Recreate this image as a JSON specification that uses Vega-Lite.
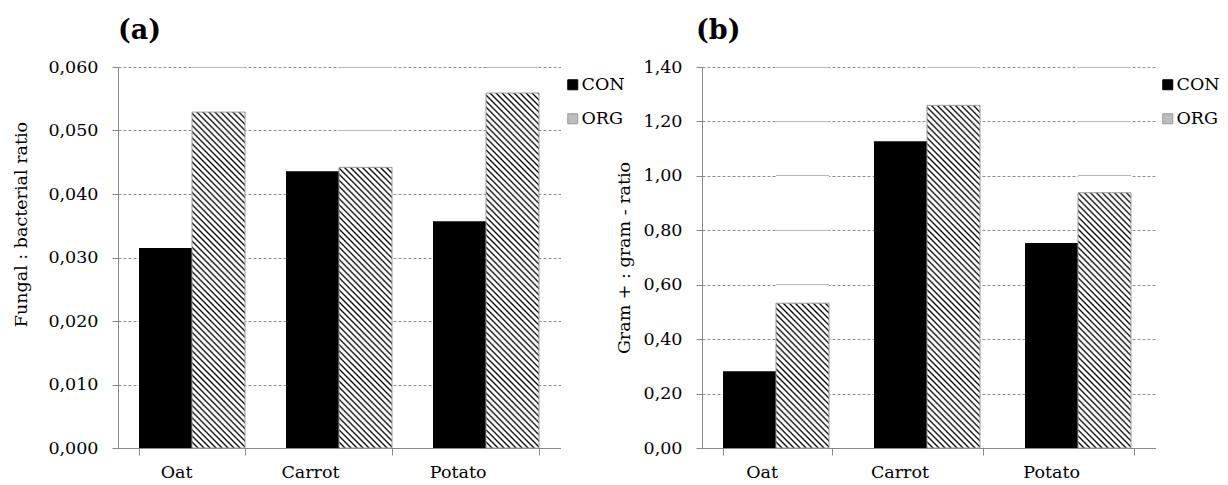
{
  "$schema": "https://vega.github.io/schema/vega-lite/v6.json",
  "padding": {"left": 12, "top": 17, "right": 0, "bottom": 0},
  "bounds": "flush",
  "spacing": 141,
  "datasets": {
    "fb": [
      {"crop": "Oat", "system": "CON", "value": 0.0315},
      {"crop": "Oat", "system": "ORG", "value": 0.0529},
      {"crop": "Carrot", "system": "CON", "value": 0.0436},
      {"crop": "Carrot", "system": "ORG", "value": 0.0442},
      {"crop": "Potato", "system": "CON", "value": 0.0357},
      {"crop": "Potato", "system": "ORG", "value": 0.0559}
    ],
    "gram": [
      {"crop": "Oat", "system": "CON", "value": 0.282},
      {"crop": "Oat", "system": "ORG", "value": 0.532},
      {"crop": "Carrot", "system": "CON", "value": 1.127},
      {"crop": "Carrot", "system": "ORG", "value": 1.259},
      {"crop": "Potato", "system": "CON", "value": 0.753},
      {"crop": "Potato", "system": "ORG", "value": 0.938}
    ]
  },
  "resolve": {
    "scale": {"fill": "independent", "stroke": "independent"},
    "legend": {"fill": "independent"}
  },
  "hconcat": [
    {
      "width": 442.5,
      "height": 381,
      "data": {"name": "fb"},
      "title": {"text": "(a)", "anchor": "start", "frame": "group", "font": "DejaVu Serif", "fontSize": 27, "fontWeight": "bold", "color": "#000000", "offset": 13},
      "layer": [
        {
          "transform": [{"filter": "datum.system === 'ORG'"}],
          "mark": {"type": "bar", "fill": {"gradient": "linear", "x1": 0, "y1": 1, "x2": 0.1577, "y2": -0.1187, "stops": [
      {"offset": 0, "color": "#000"}, {"offset": 0.0042, "color": "#fff"}, {"offset": 0.0098, "color": "#fff"},
      {"offset": 0.014, "color": "#000"}, {"offset": 0.0182, "color": "#fff"}, {"offset": 0.0238, "color": "#fff"},
      {"offset": 0.028, "color": "#000"}, {"offset": 0.0322, "color": "#fff"}, {"offset": 0.0378, "color": "#fff"},
      {"offset": 0.042, "color": "#000"}, {"offset": 0.0462, "color": "#fff"}, {"offset": 0.0518, "color": "#fff"},
      {"offset": 0.056, "color": "#000"}, {"offset": 0.0602, "color": "#fff"}, {"offset": 0.0658, "color": "#fff"},
      {"offset": 0.07, "color": "#000"}, {"offset": 0.0742, "color": "#fff"}, {"offset": 0.0798, "color": "#fff"},
      {"offset": 0.084, "color": "#000"}, {"offset": 0.0882, "color": "#fff"}, {"offset": 0.0938, "color": "#fff"},
      {"offset": 0.098, "color": "#000"}, {"offset": 0.1022, "color": "#fff"}, {"offset": 0.1078, "color": "#fff"},
      {"offset": 0.112, "color": "#000"}, {"offset": 0.1162, "color": "#fff"}, {"offset": 0.1218, "color": "#fff"},
      {"offset": 0.126, "color": "#000"}, {"offset": 0.1302, "color": "#fff"}, {"offset": 0.1358, "color": "#fff"},
      {"offset": 0.14, "color": "#000"}, {"offset": 0.1442, "color": "#fff"}, {"offset": 0.1498, "color": "#fff"},
      {"offset": 0.154, "color": "#000"}, {"offset": 0.1582, "color": "#fff"}, {"offset": 0.1638, "color": "#fff"},
      {"offset": 0.168, "color": "#000"}, {"offset": 0.1722, "color": "#fff"}, {"offset": 0.1778, "color": "#fff"},
      {"offset": 0.182, "color": "#000"}, {"offset": 0.1862, "color": "#fff"}, {"offset": 0.1918, "color": "#fff"},
      {"offset": 0.196, "color": "#000"}, {"offset": 0.2002, "color": "#fff"}, {"offset": 0.2058, "color": "#fff"},
      {"offset": 0.21, "color": "#000"}, {"offset": 0.2142, "color": "#fff"}, {"offset": 0.2198, "color": "#fff"},
      {"offset": 0.224, "color": "#000"}, {"offset": 0.2282, "color": "#fff"}, {"offset": 0.2338, "color": "#fff"},
      {"offset": 0.238, "color": "#000"}, {"offset": 0.2422, "color": "#fff"}, {"offset": 0.2478, "color": "#fff"},
      {"offset": 0.252, "color": "#000"}, {"offset": 0.2562, "color": "#fff"}, {"offset": 0.2618, "color": "#fff"},
      {"offset": 0.266, "color": "#000"}, {"offset": 0.2702, "color": "#fff"}, {"offset": 0.2758, "color": "#fff"},
      {"offset": 0.28, "color": "#000"}, {"offset": 0.2842, "color": "#fff"}, {"offset": 0.2898, "color": "#fff"},
      {"offset": 0.294, "color": "#000"}, {"offset": 0.2982, "color": "#fff"}, {"offset": 0.3038, "color": "#fff"},
      {"offset": 0.308, "color": "#000"}, {"offset": 0.3122, "color": "#fff"}, {"offset": 0.3178, "color": "#fff"},
      {"offset": 0.322, "color": "#000"}, {"offset": 0.3262, "color": "#fff"}, {"offset": 0.3318, "color": "#fff"},
      {"offset": 0.336, "color": "#000"}, {"offset": 0.3402, "color": "#fff"}, {"offset": 0.3458, "color": "#fff"},
      {"offset": 0.35, "color": "#000"}, {"offset": 0.3542, "color": "#fff"}, {"offset": 0.3598, "color": "#fff"},
      {"offset": 0.364, "color": "#000"}, {"offset": 0.3682, "color": "#fff"}, {"offset": 0.3738, "color": "#fff"},
      {"offset": 0.378, "color": "#000"}, {"offset": 0.3822, "color": "#fff"}, {"offset": 0.3878, "color": "#fff"},
      {"offset": 0.392, "color": "#000"}, {"offset": 0.3962, "color": "#fff"}, {"offset": 0.4018, "color": "#fff"},
      {"offset": 0.406, "color": "#000"}, {"offset": 0.4102, "color": "#fff"}, {"offset": 0.4158, "color": "#fff"},
      {"offset": 0.42, "color": "#000"}, {"offset": 0.4242, "color": "#fff"}, {"offset": 0.4298, "color": "#fff"},
      {"offset": 0.434, "color": "#000"}, {"offset": 0.4382, "color": "#fff"}, {"offset": 0.4438, "color": "#fff"},
      {"offset": 0.448, "color": "#000"}, {"offset": 0.4522, "color": "#fff"}, {"offset": 0.4578, "color": "#fff"},
      {"offset": 0.462, "color": "#000"}, {"offset": 0.4662, "color": "#fff"}, {"offset": 0.4718, "color": "#fff"},
      {"offset": 0.476, "color": "#000"}, {"offset": 0.4802, "color": "#fff"}, {"offset": 0.4858, "color": "#fff"},
      {"offset": 0.49, "color": "#000"}, {"offset": 0.4942, "color": "#fff"}, {"offset": 0.4998, "color": "#fff"},
      {"offset": 0.504, "color": "#000"}, {"offset": 0.5082, "color": "#fff"}, {"offset": 0.5138, "color": "#fff"},
      {"offset": 0.518, "color": "#000"}, {"offset": 0.5222, "color": "#fff"}, {"offset": 0.5278, "color": "#fff"},
      {"offset": 0.532, "color": "#000"}, {"offset": 0.5362, "color": "#fff"}, {"offset": 0.5418, "color": "#fff"},
      {"offset": 0.546, "color": "#000"}, {"offset": 0.5502, "color": "#fff"}, {"offset": 0.5558, "color": "#fff"},
      {"offset": 0.56, "color": "#000"}, {"offset": 0.5642, "color": "#fff"}, {"offset": 0.5698, "color": "#fff"},
      {"offset": 0.574, "color": "#000"}, {"offset": 0.5782, "color": "#fff"}, {"offset": 0.5838, "color": "#fff"},
      {"offset": 0.588, "color": "#000"}, {"offset": 0.5922, "color": "#fff"}, {"offset": 0.5978, "color": "#fff"},
      {"offset": 0.602, "color": "#000"}, {"offset": 0.6062, "color": "#fff"}, {"offset": 0.6118, "color": "#fff"},
      {"offset": 0.616, "color": "#000"}, {"offset": 0.6202, "color": "#fff"}, {"offset": 0.6258, "color": "#fff"},
      {"offset": 0.63, "color": "#000"}, {"offset": 0.6342, "color": "#fff"}, {"offset": 0.6398, "color": "#fff"},
      {"offset": 0.644, "color": "#000"}, {"offset": 0.6482, "color": "#fff"}, {"offset": 0.6538, "color": "#fff"},
      {"offset": 0.658, "color": "#000"}, {"offset": 0.6622, "color": "#fff"}, {"offset": 0.6678, "color": "#fff"},
      {"offset": 0.672, "color": "#000"}, {"offset": 0.6762, "color": "#fff"}, {"offset": 0.6818, "color": "#fff"},
      {"offset": 0.686, "color": "#000"}, {"offset": 0.6902, "color": "#fff"}, {"offset": 0.6958, "color": "#fff"},
      {"offset": 0.7, "color": "#000"}, {"offset": 0.7042, "color": "#fff"}, {"offset": 0.7098, "color": "#fff"},
      {"offset": 0.714, "color": "#000"}, {"offset": 0.7182, "color": "#fff"}, {"offset": 0.7238, "color": "#fff"},
      {"offset": 0.728, "color": "#000"}, {"offset": 0.7322, "color": "#fff"}, {"offset": 0.7378, "color": "#fff"},
      {"offset": 0.742, "color": "#000"}, {"offset": 0.7462, "color": "#fff"}, {"offset": 0.7518, "color": "#fff"},
      {"offset": 0.756, "color": "#000"}, {"offset": 0.7602, "color": "#fff"}, {"offset": 0.7658, "color": "#fff"},
      {"offset": 0.77, "color": "#000"}, {"offset": 0.7742, "color": "#fff"}, {"offset": 0.7798, "color": "#fff"},
      {"offset": 0.784, "color": "#000"}, {"offset": 0.7882, "color": "#fff"}, {"offset": 0.7938, "color": "#fff"},
      {"offset": 0.798, "color": "#000"}, {"offset": 0.8022, "color": "#fff"}, {"offset": 0.8078, "color": "#fff"},
      {"offset": 0.812, "color": "#000"}, {"offset": 0.8162, "color": "#fff"}, {"offset": 0.8218, "color": "#fff"},
      {"offset": 0.826, "color": "#000"}, {"offset": 0.8302, "color": "#fff"}, {"offset": 0.8358, "color": "#fff"},
      {"offset": 0.84, "color": "#000"}, {"offset": 0.8442, "color": "#fff"}, {"offset": 0.8498, "color": "#fff"},
      {"offset": 0.854, "color": "#000"}, {"offset": 0.8582, "color": "#fff"}, {"offset": 0.8638, "color": "#fff"},
      {"offset": 0.868, "color": "#000"}, {"offset": 0.8722, "color": "#fff"}, {"offset": 0.8778, "color": "#fff"},
      {"offset": 0.882, "color": "#000"}, {"offset": 0.8862, "color": "#fff"}, {"offset": 0.8918, "color": "#fff"},
      {"offset": 0.896, "color": "#000"}, {"offset": 0.9002, "color": "#fff"}, {"offset": 0.9058, "color": "#fff"},
      {"offset": 0.91, "color": "#000"}, {"offset": 0.9142, "color": "#fff"}, {"offset": 0.9198, "color": "#fff"},
      {"offset": 0.924, "color": "#000"}, {"offset": 0.9282, "color": "#fff"}, {"offset": 0.9338, "color": "#fff"},
      {"offset": 0.938, "color": "#000"}, {"offset": 0.9422, "color": "#fff"}, {"offset": 0.9478, "color": "#fff"},
      {"offset": 0.952, "color": "#000"}, {"offset": 0.9562, "color": "#fff"}, {"offset": 0.9618, "color": "#fff"},
      {"offset": 0.966, "color": "#000"}, {"offset": 0.9702, "color": "#fff"}, {"offset": 0.9758, "color": "#fff"},
      {"offset": 0.98, "color": "#000"}, {"offset": 0.9842, "color": "#fff"}, {"offset": 0.9898, "color": "#fff"},
      {"offset": 0.994, "color": "#000"}, {"offset": 0.9982, "color": "#fff"}
          ]}},
          "encoding": {
            "x": {"field": "crop", "type": "nominal", "scale": {"domain": ["Oat", "Carrot", "Potato"], "paddingInner": 0.28, "paddingOuter": 0.14, "round": true}},
            "xOffset": {"field": "system", "type": "nominal", "scale": {"domain": ["CON", "ORG"], "paddingInner": 0, "paddingOuter": 0, "round": true}},
            "y": {"datum": 0.06, "type": "quantitative", "scale": {"domain": [0, 0.06], "nice": false}},
            "y2": {"datum": 0}
          }
        },
        {
          "transform": [{"filter": "datum.system === 'ORG' && datum.crop === 'Oat'"}],
          "mark": {"type": "bar", "fill": {"gradient": "linear", "x1": 0, "y1": 0, "x2": 0, "y2": 1, "stops": [
            {"offset": 0, "color": "#b8b8b8"}, {"offset": 0.0222, "color": "#b8b8b8"}, {"offset": 0.0222, "color": "#ffffff"}, {"offset": 1, "color": "#ffffff"}]}},
          "encoding": {
            "x": {"field": "crop", "type": "nominal"},
            "xOffset": {"field": "system", "type": "nominal", "scale": {"domain": ["CON", "ORG"]}},
            "y": {"field": "value", "type": "quantitative"},
            "y2": {"datum": 0.06}
          }
        },
        {
          "transform": [{"filter": "datum.system === 'ORG' && datum.crop === 'Carrot'"}],
          "mark": {"type": "bar", "fill": {"gradient": "linear", "x1": 0, "y1": 0, "x2": 0, "y2": 1, "stops": [
            {"offset": 0, "color": "#b8b8b8"}, {"offset": 0.01, "color": "#b8b8b8"}, {"offset": 0.01, "color": "#ffffff"},
            {"offset": 0.6279, "color": "#ffffff"}, {"offset": 0.6279, "color": "#b8b8b8"}, {"offset": 0.6379, "color": "#b8b8b8"}, {"offset": 0.6379, "color": "#ffffff"}, {"offset": 1, "color": "#ffffff"}]}},
          "encoding": {
            "x": {"field": "crop", "type": "nominal"},
            "xOffset": {"field": "system", "type": "nominal", "scale": {"domain": ["CON", "ORG"]}},
            "y": {"field": "value", "type": "quantitative"},
            "y2": {"datum": 0.06}
          }
        },
        {
          "transform": [{"filter": "datum.system === 'ORG' && datum.crop === 'Potato'"}],
          "mark": {"type": "bar", "fill": {"gradient": "linear", "x1": 0, "y1": 0, "x2": 0, "y2": 1, "stops": [
            {"offset": 0, "color": "#b8b8b8"}, {"offset": 0.0384, "color": "#b8b8b8"}, {"offset": 0.0384, "color": "#ffffff"}, {"offset": 1, "color": "#ffffff"}]}},
          "encoding": {
            "x": {"field": "crop", "type": "nominal"},
            "xOffset": {"field": "system", "type": "nominal", "scale": {"domain": ["CON", "ORG"]}},
            "y": {"field": "value", "type": "quantitative"},
            "y2": {"datum": 0.06}
          }
        },
        {
          "mark": {"type": "bar"},
          "encoding": {
            "x": {"field": "crop", "type": "nominal", "scale": {"domain": ["Oat", "Carrot", "Potato"], "paddingInner": 0.28, "paddingOuter": 0.14, "round": true},
              "axis": {"title": null, "labelAngle": 0, "tickBand": "extent", "tickSize": 7, "labelPadding": 17, "grid": false}},
            "xOffset": {"field": "system", "type": "nominal", "scale": {"domain": ["CON", "ORG"]}},
            "y": {"field": "value", "type": "quantitative", "scale": {"domain": [0, 0.06], "nice": false},
              "axis": {"title": "Fungal : bacterial ratio", "titleY": 157, "values": [0, 0.01, 0.02, 0.03, 0.04, 0.05, 0.06], "labelExpr": "replace(format(datum.value, '.3f'), '.', ',')", "grid": true, "titlePadding": 17, "labelPadding": 14}},
            "fill": {"field": "system", "type": "nominal", "scale": {"domain": ["CON", "ORG"], "range": ["#000000", "#bdbdbd"]},
              "legend": {"title": null, "orient": "none", "legendX": 446, "legendY": 9, "symbolType": "square", "symbolSize": 100, "symbolStrokeWidth": 1, "rowPadding": 15, "labelOffset": 0, "padding": 0}},
            "fillOpacity": {"condition": {"test": "datum.system === 'CON'", "value": 1}, "value": 0},
            "stroke": {"field": "system", "type": "nominal", "scale": {"domain": ["CON", "ORG"], "range": ["#000000", "#9a9a9a"]}, "legend": null},
            "strokeWidth": {"condition": {"test": "datum.system === 'CON'", "value": 0}, "value": 1}
          }
        }
      ]
    },
    {
      "width": 453.5,
      "height": 381,
      "data": {"name": "gram"},
      "title": {"text": "(b)", "anchor": "start", "frame": "group", "font": "DejaVu Serif", "fontSize": 27, "fontWeight": "bold", "color": "#000000", "offset": 13, "dx": -6},
      "layer": [
        {
          "transform": [{"filter": "datum.system === 'ORG'"}],
          "mark": {"type": "bar", "fill": {"gradient": "linear", "x1": 0, "y1": 1, "x2": 0.1577, "y2": -0.1187, "stops": [
      {"offset": 0, "color": "#000"}, {"offset": 0.0042, "color": "#fff"}, {"offset": 0.0098, "color": "#fff"},
      {"offset": 0.014, "color": "#000"}, {"offset": 0.0182, "color": "#fff"}, {"offset": 0.0238, "color": "#fff"},
      {"offset": 0.028, "color": "#000"}, {"offset": 0.0322, "color": "#fff"}, {"offset": 0.0378, "color": "#fff"},
      {"offset": 0.042, "color": "#000"}, {"offset": 0.0462, "color": "#fff"}, {"offset": 0.0518, "color": "#fff"},
      {"offset": 0.056, "color": "#000"}, {"offset": 0.0602, "color": "#fff"}, {"offset": 0.0658, "color": "#fff"},
      {"offset": 0.07, "color": "#000"}, {"offset": 0.0742, "color": "#fff"}, {"offset": 0.0798, "color": "#fff"},
      {"offset": 0.084, "color": "#000"}, {"offset": 0.0882, "color": "#fff"}, {"offset": 0.0938, "color": "#fff"},
      {"offset": 0.098, "color": "#000"}, {"offset": 0.1022, "color": "#fff"}, {"offset": 0.1078, "color": "#fff"},
      {"offset": 0.112, "color": "#000"}, {"offset": 0.1162, "color": "#fff"}, {"offset": 0.1218, "color": "#fff"},
      {"offset": 0.126, "color": "#000"}, {"offset": 0.1302, "color": "#fff"}, {"offset": 0.1358, "color": "#fff"},
      {"offset": 0.14, "color": "#000"}, {"offset": 0.1442, "color": "#fff"}, {"offset": 0.1498, "color": "#fff"},
      {"offset": 0.154, "color": "#000"}, {"offset": 0.1582, "color": "#fff"}, {"offset": 0.1638, "color": "#fff"},
      {"offset": 0.168, "color": "#000"}, {"offset": 0.1722, "color": "#fff"}, {"offset": 0.1778, "color": "#fff"},
      {"offset": 0.182, "color": "#000"}, {"offset": 0.1862, "color": "#fff"}, {"offset": 0.1918, "color": "#fff"},
      {"offset": 0.196, "color": "#000"}, {"offset": 0.2002, "color": "#fff"}, {"offset": 0.2058, "color": "#fff"},
      {"offset": 0.21, "color": "#000"}, {"offset": 0.2142, "color": "#fff"}, {"offset": 0.2198, "color": "#fff"},
      {"offset": 0.224, "color": "#000"}, {"offset": 0.2282, "color": "#fff"}, {"offset": 0.2338, "color": "#fff"},
      {"offset": 0.238, "color": "#000"}, {"offset": 0.2422, "color": "#fff"}, {"offset": 0.2478, "color": "#fff"},
      {"offset": 0.252, "color": "#000"}, {"offset": 0.2562, "color": "#fff"}, {"offset": 0.2618, "color": "#fff"},
      {"offset": 0.266, "color": "#000"}, {"offset": 0.2702, "color": "#fff"}, {"offset": 0.2758, "color": "#fff"},
      {"offset": 0.28, "color": "#000"}, {"offset": 0.2842, "color": "#fff"}, {"offset": 0.2898, "color": "#fff"},
      {"offset": 0.294, "color": "#000"}, {"offset": 0.2982, "color": "#fff"}, {"offset": 0.3038, "color": "#fff"},
      {"offset": 0.308, "color": "#000"}, {"offset": 0.3122, "color": "#fff"}, {"offset": 0.3178, "color": "#fff"},
      {"offset": 0.322, "color": "#000"}, {"offset": 0.3262, "color": "#fff"}, {"offset": 0.3318, "color": "#fff"},
      {"offset": 0.336, "color": "#000"}, {"offset": 0.3402, "color": "#fff"}, {"offset": 0.3458, "color": "#fff"},
      {"offset": 0.35, "color": "#000"}, {"offset": 0.3542, "color": "#fff"}, {"offset": 0.3598, "color": "#fff"},
      {"offset": 0.364, "color": "#000"}, {"offset": 0.3682, "color": "#fff"}, {"offset": 0.3738, "color": "#fff"},
      {"offset": 0.378, "color": "#000"}, {"offset": 0.3822, "color": "#fff"}, {"offset": 0.3878, "color": "#fff"},
      {"offset": 0.392, "color": "#000"}, {"offset": 0.3962, "color": "#fff"}, {"offset": 0.4018, "color": "#fff"},
      {"offset": 0.406, "color": "#000"}, {"offset": 0.4102, "color": "#fff"}, {"offset": 0.4158, "color": "#fff"},
      {"offset": 0.42, "color": "#000"}, {"offset": 0.4242, "color": "#fff"}, {"offset": 0.4298, "color": "#fff"},
      {"offset": 0.434, "color": "#000"}, {"offset": 0.4382, "color": "#fff"}, {"offset": 0.4438, "color": "#fff"},
      {"offset": 0.448, "color": "#000"}, {"offset": 0.4522, "color": "#fff"}, {"offset": 0.4578, "color": "#fff"},
      {"offset": 0.462, "color": "#000"}, {"offset": 0.4662, "color": "#fff"}, {"offset": 0.4718, "color": "#fff"},
      {"offset": 0.476, "color": "#000"}, {"offset": 0.4802, "color": "#fff"}, {"offset": 0.4858, "color": "#fff"},
      {"offset": 0.49, "color": "#000"}, {"offset": 0.4942, "color": "#fff"}, {"offset": 0.4998, "color": "#fff"},
      {"offset": 0.504, "color": "#000"}, {"offset": 0.5082, "color": "#fff"}, {"offset": 0.5138, "color": "#fff"},
      {"offset": 0.518, "color": "#000"}, {"offset": 0.5222, "color": "#fff"}, {"offset": 0.5278, "color": "#fff"},
      {"offset": 0.532, "color": "#000"}, {"offset": 0.5362, "color": "#fff"}, {"offset": 0.5418, "color": "#fff"},
      {"offset": 0.546, "color": "#000"}, {"offset": 0.5502, "color": "#fff"}, {"offset": 0.5558, "color": "#fff"},
      {"offset": 0.56, "color": "#000"}, {"offset": 0.5642, "color": "#fff"}, {"offset": 0.5698, "color": "#fff"},
      {"offset": 0.574, "color": "#000"}, {"offset": 0.5782, "color": "#fff"}, {"offset": 0.5838, "color": "#fff"},
      {"offset": 0.588, "color": "#000"}, {"offset": 0.5922, "color": "#fff"}, {"offset": 0.5978, "color": "#fff"},
      {"offset": 0.602, "color": "#000"}, {"offset": 0.6062, "color": "#fff"}, {"offset": 0.6118, "color": "#fff"},
      {"offset": 0.616, "color": "#000"}, {"offset": 0.6202, "color": "#fff"}, {"offset": 0.6258, "color": "#fff"},
      {"offset": 0.63, "color": "#000"}, {"offset": 0.6342, "color": "#fff"}, {"offset": 0.6398, "color": "#fff"},
      {"offset": 0.644, "color": "#000"}, {"offset": 0.6482, "color": "#fff"}, {"offset": 0.6538, "color": "#fff"},
      {"offset": 0.658, "color": "#000"}, {"offset": 0.6622, "color": "#fff"}, {"offset": 0.6678, "color": "#fff"},
      {"offset": 0.672, "color": "#000"}, {"offset": 0.6762, "color": "#fff"}, {"offset": 0.6818, "color": "#fff"},
      {"offset": 0.686, "color": "#000"}, {"offset": 0.6902, "color": "#fff"}, {"offset": 0.6958, "color": "#fff"},
      {"offset": 0.7, "color": "#000"}, {"offset": 0.7042, "color": "#fff"}, {"offset": 0.7098, "color": "#fff"},
      {"offset": 0.714, "color": "#000"}, {"offset": 0.7182, "color": "#fff"}, {"offset": 0.7238, "color": "#fff"},
      {"offset": 0.728, "color": "#000"}, {"offset": 0.7322, "color": "#fff"}, {"offset": 0.7378, "color": "#fff"},
      {"offset": 0.742, "color": "#000"}, {"offset": 0.7462, "color": "#fff"}, {"offset": 0.7518, "color": "#fff"},
      {"offset": 0.756, "color": "#000"}, {"offset": 0.7602, "color": "#fff"}, {"offset": 0.7658, "color": "#fff"},
      {"offset": 0.77, "color": "#000"}, {"offset": 0.7742, "color": "#fff"}, {"offset": 0.7798, "color": "#fff"},
      {"offset": 0.784, "color": "#000"}, {"offset": 0.7882, "color": "#fff"}, {"offset": 0.7938, "color": "#fff"},
      {"offset": 0.798, "color": "#000"}, {"offset": 0.8022, "color": "#fff"}, {"offset": 0.8078, "color": "#fff"},
      {"offset": 0.812, "color": "#000"}, {"offset": 0.8162, "color": "#fff"}, {"offset": 0.8218, "color": "#fff"},
      {"offset": 0.826, "color": "#000"}, {"offset": 0.8302, "color": "#fff"}, {"offset": 0.8358, "color": "#fff"},
      {"offset": 0.84, "color": "#000"}, {"offset": 0.8442, "color": "#fff"}, {"offset": 0.8498, "color": "#fff"},
      {"offset": 0.854, "color": "#000"}, {"offset": 0.8582, "color": "#fff"}, {"offset": 0.8638, "color": "#fff"},
      {"offset": 0.868, "color": "#000"}, {"offset": 0.8722, "color": "#fff"}, {"offset": 0.8778, "color": "#fff"},
      {"offset": 0.882, "color": "#000"}, {"offset": 0.8862, "color": "#fff"}, {"offset": 0.8918, "color": "#fff"},
      {"offset": 0.896, "color": "#000"}, {"offset": 0.9002, "color": "#fff"}, {"offset": 0.9058, "color": "#fff"},
      {"offset": 0.91, "color": "#000"}, {"offset": 0.9142, "color": "#fff"}, {"offset": 0.9198, "color": "#fff"},
      {"offset": 0.924, "color": "#000"}, {"offset": 0.9282, "color": "#fff"}, {"offset": 0.9338, "color": "#fff"},
      {"offset": 0.938, "color": "#000"}, {"offset": 0.9422, "color": "#fff"}, {"offset": 0.9478, "color": "#fff"},
      {"offset": 0.952, "color": "#000"}, {"offset": 0.9562, "color": "#fff"}, {"offset": 0.9618, "color": "#fff"},
      {"offset": 0.966, "color": "#000"}, {"offset": 0.9702, "color": "#fff"}, {"offset": 0.9758, "color": "#fff"},
      {"offset": 0.98, "color": "#000"}, {"offset": 0.9842, "color": "#fff"}, {"offset": 0.9898, "color": "#fff"},
      {"offset": 0.994, "color": "#000"}, {"offset": 0.9982, "color": "#fff"}
          ]}},
          "encoding": {
            "x": {"field": "crop", "type": "nominal", "scale": {"domain": ["Oat", "Carrot", "Potato"], "paddingInner": 0.28, "paddingOuter": 0.14, "round": true}},
            "xOffset": {"field": "system", "type": "nominal", "scale": {"domain": ["CON", "ORG"], "paddingInner": 0, "paddingOuter": 0, "round": true}},
            "y": {"datum": 1.4, "type": "quantitative", "scale": {"domain": [0, 1.4], "nice": false}},
            "y2": {"datum": 0}
          }
        },
        {
          "transform": [{"filter": "datum.system === 'ORG' && datum.crop === 'Oat'"}],
          "mark": {"type": "bar", "fill": {"gradient": "linear", "x1": 0, "y1": 0, "x2": 0, "y2": 1, "stops": [
            {"offset": 0, "color": "#b8b8b8"}, {"offset": 0.0042, "color": "#b8b8b8"}, {"offset": 0.0042, "color": "#ffffff"},
            {"offset": 0.2283, "color": "#ffffff"}, {"offset": 0.2283, "color": "#b8b8b8"}, {"offset": 0.2325, "color": "#b8b8b8"}, {"offset": 0.2325, "color": "#ffffff"},
            {"offset": 0.4587, "color": "#ffffff"}, {"offset": 0.4587, "color": "#b8b8b8"}, {"offset": 0.463, "color": "#b8b8b8"}, {"offset": 0.463, "color": "#ffffff"},
            {"offset": 0.6891, "color": "#ffffff"}, {"offset": 0.6891, "color": "#b8b8b8"}, {"offset": 0.6934, "color": "#b8b8b8"}, {"offset": 0.6934, "color": "#ffffff"},
            {"offset": 0.9195, "color": "#ffffff"}, {"offset": 0.9195, "color": "#b8b8b8"}, {"offset": 0.9238, "color": "#b8b8b8"}, {"offset": 0.9238, "color": "#ffffff"},
            {"offset": 1, "color": "#ffffff"}]}},
          "encoding": {
            "x": {"field": "crop", "type": "nominal"},
            "xOffset": {"field": "system", "type": "nominal", "scale": {"domain": ["CON", "ORG"]}},
            "y": {"field": "value", "type": "quantitative"},
            "y2": {"datum": 1.4}
          }
        },
        {
          "transform": [{"filter": "datum.system === 'ORG' && datum.crop === 'Carrot'"}],
          "mark": {"type": "bar", "fill": {"gradient": "linear", "x1": 0, "y1": 0, "x2": 0, "y2": 1, "stops": [
            {"offset": 0, "color": "#b8b8b8"}, {"offset": 0.0261, "color": "#b8b8b8"}, {"offset": 0.0261, "color": "#ffffff"}, {"offset": 1, "color": "#ffffff"}]}},
          "encoding": {
            "x": {"field": "crop", "type": "nominal"},
            "xOffset": {"field": "system", "type": "nominal", "scale": {"domain": ["CON", "ORG"]}},
            "y": {"field": "value", "type": "quantitative"},
            "y2": {"datum": 1.4}
          }
        },
        {
          "transform": [{"filter": "datum.system === 'ORG' && datum.crop === 'Potato'"}],
          "mark": {"type": "bar", "fill": {"gradient": "linear", "x1": 0, "y1": 0, "x2": 0, "y2": 1, "stops": [
            {"offset": 0, "color": "#b8b8b8"}, {"offset": 0.008, "color": "#b8b8b8"}, {"offset": 0.008, "color": "#ffffff"},
            {"offset": 0.4289, "color": "#ffffff"}, {"offset": 0.4289, "color": "#b8b8b8"}, {"offset": 0.4369, "color": "#b8b8b8"}, {"offset": 0.4369, "color": "#ffffff"},
            {"offset": 0.8618, "color": "#ffffff"}, {"offset": 0.8618, "color": "#b8b8b8"}, {"offset": 0.8698, "color": "#b8b8b8"}, {"offset": 0.8698, "color": "#ffffff"},
            {"offset": 1, "color": "#ffffff"}]}},
          "encoding": {
            "x": {"field": "crop", "type": "nominal"},
            "xOffset": {"field": "system", "type": "nominal", "scale": {"domain": ["CON", "ORG"]}},
            "y": {"field": "value", "type": "quantitative"},
            "y2": {"datum": 1.4}
          }
        },
        {
          "mark": {"type": "bar"},
          "encoding": {
            "x": {"field": "crop", "type": "nominal", "scale": {"domain": ["Oat", "Carrot", "Potato"], "paddingInner": 0.28, "paddingOuter": 0.14, "round": true},
              "axis": {"title": null, "labelAngle": 0, "tickBand": "extent", "tickSize": 7, "labelPadding": 17, "grid": false}},
            "xOffset": {"field": "system", "type": "nominal", "scale": {"domain": ["CON", "ORG"]}},
            "y": {"field": "value", "type": "quantitative", "scale": {"domain": [0, 1.4], "nice": false},
              "axis": {"title": "Gram + : gram - ratio", "values": [0, 0.2, 0.4, 0.6, 0.8, 1.0, 1.2, 1.4], "labelExpr": "replace(format(datum.value, '.2f'), '.', ',')", "grid": true, "titlePadding": 10, "labelPadding": 14}},
            "fill": {"field": "system", "type": "nominal", "scale": {"domain": ["CON", "ORG"], "range": ["#000000", "#bdbdbd"]},
              "legend": {"title": null, "orient": "none", "legendX": 457, "legendY": 9, "symbolType": "square", "symbolSize": 100, "symbolStrokeWidth": 1, "rowPadding": 15, "labelOffset": 0, "padding": 0}},
            "fillOpacity": {"condition": {"test": "datum.system === 'CON'", "value": 1}, "value": 0},
            "stroke": {"field": "system", "type": "nominal", "scale": {"domain": ["CON", "ORG"], "range": ["#000000", "#9a9a9a"]}, "legend": null},
            "strokeWidth": {"condition": {"test": "datum.system === 'CON'", "value": 0}, "value": 1}
          }
        }
      ]
    }
  ],
  "config": {
    "background": "#ffffff",
    "view": {"stroke": null},
    "font": "DejaVu Serif",
    "axis": {
      "labelFont": "DejaVu Serif", "labelFontSize": 17.5, "labelColor": "#000000",
      "titleFont": "DejaVu Serif", "titleFontSize": 17.5, "titleFontWeight": "normal", "titleColor": "#000000",
      "domainColor": "#888888", "tickColor": "#888888", "tickSize": 6,
      "gridColor": "#8c8c8c", "gridDash": [3, 2], "gridWidth": 1
    },
    "axisX": {"grid": false},
    "legend": {"labelFont": "DejaVu Serif", "labelFontSize": 17.5, "labelColor": "#000000"}
  }
}
